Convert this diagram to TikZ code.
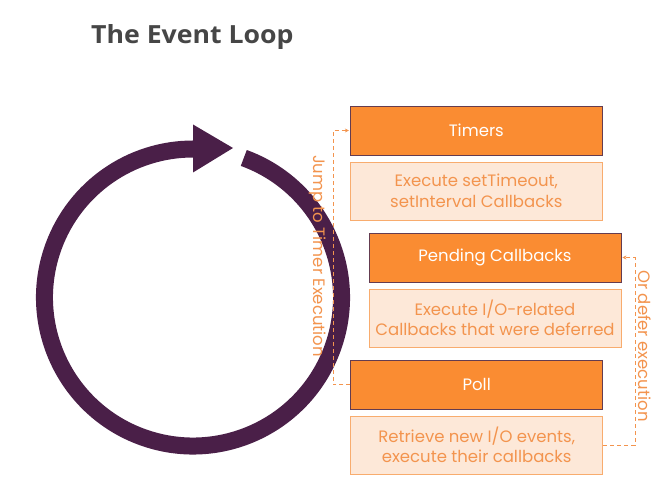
\documentclass[tikz,border=0pt]{standalone}
\usepackage{fontspec}
\setmainfont{Poppins}
\newfontfamily\titlefont{Open Sans}
\usetikzlibrary{arrows.meta}
\definecolor{loopc}{RGB}{74,31,72}
\definecolor{orangebox}{RGB}{250,140,50}
\definecolor{orangeedge}{RGB}{100,60,80}
\definecolor{peach}{RGB}{253,232,216}
\definecolor{peachedge}{RGB}{248,172,110}
\definecolor{orangetxt}{RGB}{243,148,78}
\definecolor{titlec}{RGB}{70,70,70}
\tikzset{
  phase/.style={draw=orangeedge, line width=0.8pt, fill=orangebox, text=white,
    minimum width=252pt, minimum height=49pt, inner sep=0pt,
    font=\fontsize{16.5}{20.5}\selectfont},
  descbox/.style={draw=peachedge, line width=0.9pt, fill=peach, text=orangetxt,
    minimum width=252pt, minimum height=58pt, inner sep=0pt, align=center,
    font=\fontsize{16.5}{20.5}\selectfont},
  jumpline/.style={draw=orangetxt, line width=0.9pt, dash pattern=on 4pt off 3pt},
  sidelabel/.style={text=orangetxt, rotate=-90, inner sep=0pt,
    font=\fontsize{16.5}{18}\selectfont}
}
\begin{document}
\begin{tikzpicture}[x=1pt,y=1pt]
\useasboundingbox[fill=white] (0,0) rectangle (664,482);
% title
\node[anchor=base west, inner sep=0pt, text=titlec,
  font=\titlefont\bfseries\fontsize{25}{28}\selectfont] (title) at (91,438.5) {\scalebox{1.066}[1]{The Event Loop}};
% loop
\coordinate (c) at (193,184.5);
\draw[loopc, line width=17pt] ([shift={(70:148.5)}]c) arc[start angle=70, end angle=-270, radius=148.5];
\fill[loopc] (193,357.5) -- (233,334) -- (193,309.5) -- cycle;
% boxes
\node[phase] (timers) at (476.3,351.5) {Timers};
\node[descbox] (timersd) at (476.3,291) {Execute setTimeout,\\setInterval Callbacks};
\node[phase] (pending) at (495,224.5) {Pending Callbacks};
\node[descbox] (pendingd) at (495,164) {Execute I/O-related\\Callbacks that were deferred};
\node[phase] (poll) at (476.7,97.5) {Poll};
\node[descbox] (polld) at (476.7,37) {Retrieve new I/O events,\\execute their callbacks};
% connectors
\coordinate (jl) at (333,97.5);
\draw[jumpline, -{Stealth[length=4pt,width=4pt]}] (poll.west) -- (jl) |- ([xshift=-1pt]timers.west);
\coordinate (dr) at (635,37);
\draw[jumpline, -{Stealth[length=4pt,width=4pt]}] (polld.east) -- (dr) |- ([xshift=1pt]pending.east);
\node[sidelabel] (jumplabel) at (318,226) {Jump to Timer Execution};
\node[sidelabel] (deferlabel) at (645,136) {Or defer execution};
\end{tikzpicture}
\end{document}
